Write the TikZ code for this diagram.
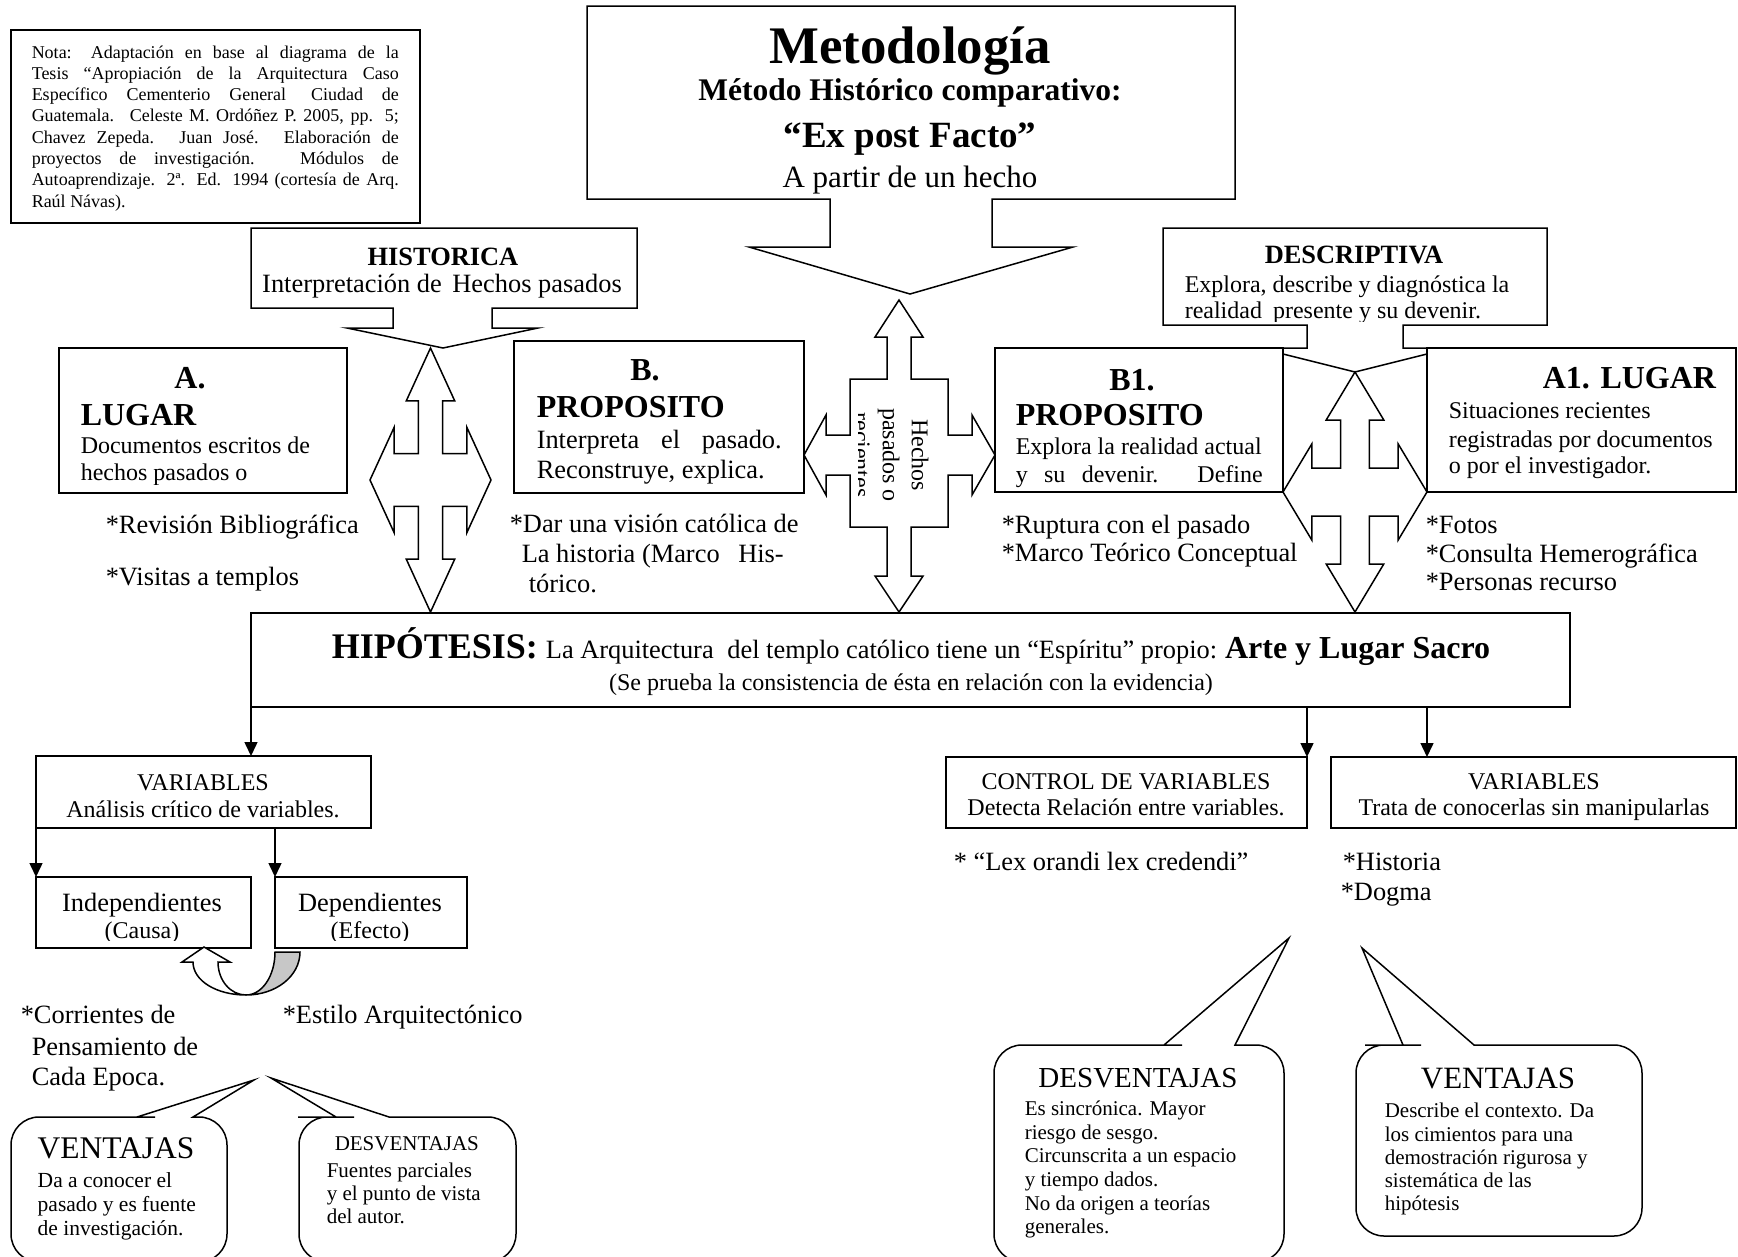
\documentclass[tikz,border=0pt]{standalone}
\usepackage{fontspec}
\setmainfont{Liberation Serif}
\usetikzlibrary{arrows.meta}
\newcommand\sz[2]{\fontsize{#1}{#2}\selectfont}
\newcommand\bx[5]{\node[box, minimum width={(#4-#2)*1pt}, minimum height={(#5-#3)*1pt}] (#1) at ({(#2+#4)/2},{(#3+#5)/2}) {};}
\newcommand\bubble[8]{\draw[fill=white] (#5,#2) -- (#6,#7) -- (#8,#2) -- ({#8+10},#2) [rounded corners=28pt] -- (#3,#2) -- (#3,#4) -- (#1,#4) -- (#1,#2) -- ({#5-10},#2) [sharp corners] -- cycle;}
\newcommand\quadarrow[4]{\begin{scope}[shift={(#1,#2)},x=#3pt,y=#4pt]
\draw[shp] (0,-0.5) -- (0.2,-0.3) -- (0.1,-0.3) -- (0.1,-0.1) -- (0.3,-0.1) -- (0.3,-0.2) -- (0.5,0) -- (0.3,0.2) -- (0.3,0.1) -- (0.1,0.1) -- (0.1,0.3) -- (0.2,0.3) -- (0,0.5) -- (-0.2,0.3) -- (-0.1,0.3) -- (-0.1,0.1) -- (-0.3,0.1) -- (-0.3,0.2) -- (-0.5,0) -- (-0.3,-0.2) -- (-0.3,-0.1) -- (-0.1,-0.1) -- (-0.1,-0.3) -- (-0.2,-0.3) -- cycle;
\end{scope}}
\begin{document}
\begin{tikzpicture}[x=1pt,y=-1pt,line width=1.5pt,
  lbl/.style={inner sep=0pt, anchor=base west},
  clbl/.style={inner sep=0pt, anchor=base},
  box/.style={draw, fill=white, inner sep=0pt, outer sep=0pt, line width=1.5pt},
  shp/.style={draw, fill=white, line join=miter},
  arr/.style={-{Triangle[length=14pt,width=13pt]}},
  body/.style={font=\sz{26.4}{30}},
  small/.style={font=\sz{24}{28}},
  bub/.style={font=\sz{21}{24}},
  hd/.style={font=\bfseries\sz{32}{36}}]
\useasboundingbox (0,0) rectangle (1738,1256);

% ---------- Nota ----------
\bx{nota}{11}{30}{420}{223}
\node[lbl,font=\sz{18}{21}] (nt1) at (31,58) {\makebox[367pt][s]{Nota: Adaptación en base al diagrama de la}};
\node[lbl,font=\sz{18}{21}] (nt2) at (31,79.3) {\makebox[367pt][s]{Tesis “Apropiación de la Arquitectura Caso}};
\node[lbl,font=\sz{18}{21}] (nt3) at (31,100.6) {\makebox[367pt][s]{Específico Cementerio General\hspace{6pt} Ciudad de}};
\node[lbl,font=\sz{18}{21}] (nt4) at (31,121.9) {\makebox[367pt][s]{Guatemala.\hspace{4pt} Celeste M. Ordóñez P. 2005, pp. 5;}};
\node[lbl,font=\sz{18}{21}] (nt5) at (31,143.2) {\makebox[367pt][s]{Chavez Zepeda. Juan José. Elaboración de}};
\node[lbl,font=\sz{18}{21}] (nt6) at (31,164.5) {\makebox[367pt][s]{proyectos de investigación. Módulos de}};
\node[lbl,font=\sz{18}{21}] (nt7) at (31,185.8) {\makebox[367pt][s]{Autoaprendizaje. 2ª. Ed. 1994 (cortesía de Arq.}};
\node[lbl,font=\sz{18}{21}] (nt8) at (31,207.1) {Raúl Návas).};

% ---------- Metodologia callout ----------
\draw[shp] (587,6) -- (1235,6) -- (1235,199) -- (992,199) -- (992,247) -- (1073,247) -- (910,294) -- (749,247) -- (830,247) -- (830,199) -- (587,199) -- cycle;
\node[clbl,font=\bfseries\sz{52.8}{56}] (met1) at (910,63) {Metodología};
\node[clbl,font=\bfseries\sz{31.5}{34}] (met2) at (910,100) {Método Histórico comparativo:};
\node[clbl,font=\bfseries\sz{37}{40}] (met3) at (910,147) {“Ex post Facto”};
\node[clbl,font=\sz{31}{34}] (met4) at (910,187) {A partir de un hecho};

% ---------- HISTORICA callout ----------
\draw[shp] (251,228) -- (637,228) -- (637,308) -- (492,308) -- (492,328) -- (538,328) -- (443,348) -- (347,328) -- (393,328) -- (393,308) -- (251,308) -- cycle;
\node[clbl,font=\bfseries\sz{26.4}{30}] (his1) at (443,265) {HISTORICA};
\node[clbl,body] (his2) at (442,292) {Interpretación de\hspace{4pt} Hechos pasados};

% ---------- DESCRIPTIVA callout ----------
\draw[shp] (1163,228) -- (1547,228) -- (1547,325) -- (1403,325) -- (1403,348) -- (1451,348) -- (1355,372) -- (1259,348) -- (1307,348) -- (1307,325) -- (1163,325) -- cycle;
\node[clbl,font=\bfseries\sz{26.4}{30}] (des1) at (1354,263) {DESCRIPTIVA};
\begin{scope}
\clip (1163,228) rectangle (1547,321);
\node[lbl,small] (des2) at (1184,292) {Explora, describe y diagnóstica la};
\node[lbl,small] (des3) at (1184,318) {realidad\hspace{5pt} presente y su devenir.};
\end{scope}

% ---------- cross arrows ----------
\quadarrow{430.5}{480}{121}{264}
\quadarrow{1355}{492}{144}{240}
\draw[shp] (899,300) -- (923,337) -- (911,337) -- (911,379) -- (948,379) -- (948,435) -- (972,435) -- (972,415) -- (995,455) -- (972,495) -- (972,475) -- (948,475) -- (948,527) -- (911,527) -- (911,576) -- (923,576) -- (899,612) -- (875,576) -- (887,576) -- (887,527) -- (850,527) -- (850,475) -- (826,475) -- (826,495) -- (804,455) -- (826,415) -- (826,435) -- (850,435) -- (850,379) -- (887,379) -- (887,337) -- (875,337) -- cycle;
\begin{scope}
\clip (858,379) rectangle (948,527);
\node[rotate=-90, align=center, inner sep=0pt, font=\sz{24}{29}] (hechos) at (891,455) {Hechos\\pasados o\\recientes};
\end{scope}

% ---------- A / B / B1 / A1 boxes ----------
\bx{boxA}{59}{348}{347}{493}
\node[clbl,hd] (a1) at (190,388) {A.};
\node[lbl,hd] (a2) at (80,425) {LUGAR};
\begin{scope}
\clip (59,348) rectangle (347,484);
\node[lbl,small] (a3) at (80,453) {Documentos escritos de};
\node[lbl,small] (a4) at (80,480) {hechos pasados o};
\end{scope}

\bx{boxB}{514}{341}{804}{493}
\node[clbl,hd] (b1) at (645,380) {B.};
\node[lbl,hd] (b2) at (536,417) {PROPOSITO};
\begin{scope}
\clip (514,341) rectangle (804,483);
\node[lbl,body] (b3) at (536,448) {\makebox[245pt][s]{Interpreta el pasado.}};
\node[lbl,body] (b4) at (536,478) {Reconstruye, explica.};
\end{scope}

\bx{boxBone}{995}{348}{1283}{492}
\node[clbl,hd] (bb1) at (1132,390) {B1.};
\node[lbl,hd] (bb2) at (1015,425) {PROPOSITO};
\begin{scope}
\clip (995,348) rectangle (1283,487);
\node[lbl,small] (bb3) at (1015,454) {Explora la realidad actual};
\node[lbl,small] (bb4) at (1015,482) {\makebox[247pt][s]{y su devenir. Define}};
\end{scope}

\bx{boxAone}{1427}{348}{1736}{492}
\node[lbl,hd] (aa1) at (1542,388) {A1. LUGAR};
\node[lbl,small] (aa2) at (1448,418) {Situaciones recientes};
\node[lbl,small] (aa3) at (1448,447) {registradas por documentos};
\node[lbl,small] (aa4) at (1448,473) {o por el investigador.};

% ---------- texts under boxes ----------
\node[lbl,body] (ra1) at (105,533) {*Revisión Bibliográfica};
\node[lbl,body] (ra2) at (105,585) {*Visitas a templos};
\node[lbl,body] (rb1) at (509,532) {*Dar una visión católica de};
\node[lbl,body] (rb2) at (521,562) {La historia (Marco\hspace{12pt} His-};
\node[lbl,body] (rb3) at (528,592) {tórico.};
\node[lbl,body] (rc1) at (1001,533) {*Ruptura con el pasado};
\node[lbl,body] (rc2) at (1001,561) {*Marco Teórico Conceptual};
\node[lbl,body] (rd1) at (1425,533) {*Fotos};
\node[lbl,body] (rd2) at (1425,562) {*Consulta Hemerográfica};
\node[lbl,body] (rd3) at (1425,590) {*Personas recurso};

% ---------- Hipotesis ----------
\bx{hyp}{251}{613}{1570}{707}
\node[clbl,body] (hyp1) at (911,658) {{\bfseries\sz{36}{40}HIPÓTESIS:}\hspace{8pt}La Arquitectura\hspace{7pt} del templo católico tiene un “Espíritu” propio:\hspace{8pt}{\bfseries\sz{32}{36}Arte y Lugar Sacro}};
\node[clbl,small] (hyp2) at (911,690) {(Se prueba la consistencia de ésta en relación con la evidencia)};

% ---------- lower left ----------
\bx{varL}{36}{756}{371}{828}
\node[clbl,small] (vl1) at (203,790) {VARIABLES};
\node[clbl,small] (vl2) at (203,817) {Análisis crítico de variables.};
\bx{indep}{36}{877}{251}{948}
\bx{dep}{275}{877}{467}{948}
\begin{scope}
\clip (36,877) rectangle (467,940);
\node[clbl,body] (in1) at (142,911) {Independientes};
\node[clbl,small] (in2) at (142,938) {(Causa)};
\node[clbl,body] (de1) at (370,911) {Dependientes};
\node[clbl,small] (de2) at (370,938) {(Efecto)};
\end{scope}
\draw[arr] (hyp.south west) -- (hyp.south west |- varL.north);
\draw[arr] (varL.south west) -- (indep.north west);
\draw[arr] (dep.north west |- varL.south) -- (dep.north west);

% curved arrow
\draw[fill=black!22] (246,995) .. controls (276,995) and (300,976) .. (300,952) -- (275,952) .. controls (275,976) and (262,995) .. (246,995) -- cycle;
\draw[fill=white] (218,962) -- (230,962) -- (204,947) -- (182,962) -- (193,962) .. controls (193,981) and (217,995) .. (246,995) .. controls (231,995) and (218,981) .. (218,962) -- cycle;

\node[lbl,body] (co1) at (20,1023) {*Corrientes de};
\node[lbl,body] (co2) at (31,1055) {Pensamiento de};
\node[lbl,body] (co3) at (31,1085) {Cada Epoca.};
\node[lbl,body] (es1) at (282,1023) {*Estilo Arquitectónico};

\bubble{11}{1117}{227}{1262}{137}{254}{1080}{193}
\node[lbl,font=\sz{31.5}{34}] (vt1) at (37,1158) {VENTAJAS};
\node[lbl,font=\sz{21.5}{24}] (vt2) at (37,1187) {Da a conocer el};
\node[lbl,font=\sz{21.5}{24}] (vt3) at (37,1211) {pasado y es fuente};
\node[lbl,font=\sz{21.5}{24}] (vt4) at (37,1235) {de investigación.};

\bubble{299}{1117}{516}{1262}{336}{271}{1078}{389}
\node[lbl,bub] (dv1) at (334,1150) {DESVENTAJAS};
\node[lbl,bub] (dv2) at (326,1177) {Fuentes parciales};
\node[lbl,bub] (dv3) at (326,1200) {y el punto de vista};
\node[lbl,bub] (dv4) at (326,1223) {del autor.};

% ---------- lower right ----------
\bx{ctrl}{946}{757}{1307}{828}
\node[clbl,small] (ct1) at (1126,789) {CONTROL DE VARIABLES};
\node[clbl,small] (ct2) at (1126,815) {Detecta Relación entre variables.};
\bx{varR}{1331}{757}{1736}{828}
\node[clbl,small] (vr1) at (1534,789) {VARIABLES};
\begin{scope}
\clip (1331,757) rectangle (1736,821);
\node[clbl,small] (vr2) at (1534,815) {Trata de conocerlas sin manipularlas};
\end{scope}
\draw[arr] (ctrl.north east |- hyp.south) -- (ctrl.north east);
\coordinate (vrin) at (1427,757);
\draw[arr] (vrin |- hyp.south) -- (vrin);

\node[lbl,body] (lx) at (953,870) {* “Lex orandi lex credendi”};
\node[lbl,body] (hi) at (1342,870) {*Historia};
\node[lbl,body] (dg) at (1340,900) {*Dogma};

\bubble{994}{1045}{1284}{1262}{1164}{1289}{938}{1235}
\node[clbl,font=\sz{29}{32}] (dr1) at (1138,1087) {DESVENTAJAS};
\node[lbl,bub] (dr2) at (1024,1115) {Es sincrónica. Mayor};
\node[lbl,bub] (dr3) at (1024,1139) {riesgo de sesgo.};
\node[lbl,bub] (dr4) at (1024,1162) {Circunscrita a un espacio};
\node[lbl,bub] (dr5) at (1024,1186) {y tiempo dados.};
\node[lbl,bub] (dr6) at (1024,1210) {No da origen a teorías};
\node[lbl,bub] (dr7) at (1024,1233) {generales.};

\bubble{1356}{1045}{1642}{1236}{1403}{1362}{948}{1474}
\node[clbl,font=\sz{31}{34}] (vr3) at (1498,1088) {VENTAJAS};
\node[lbl,bub] (vv1) at (1384,1117) {Describe el contexto. Da};
\node[lbl,bub] (vv2) at (1384,1141) {los cimientos para una};
\node[lbl,bub] (vv3) at (1384,1164) {demostración rigurosa y};
\node[lbl,bub] (vv4) at (1384,1187) {sistemática de las};
\node[lbl,bub] (vv5) at (1384,1210) {hipótesis};
\end{tikzpicture}
\end{document}
